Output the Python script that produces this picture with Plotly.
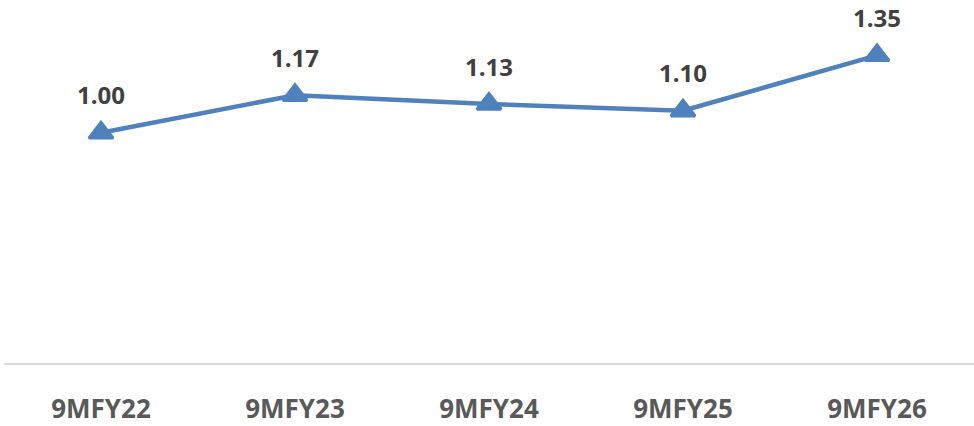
import plotly.graph_objects as go

categories = ["9MFY22", "9MFY23", "9MFY24", "9MFY25", "9MFY26"]
values = [1.00, 1.17, 1.13, 1.10, 1.35]
labels = ["1.00", "1.17", "1.13", "1.10", "1.35"]

LINE = "#4F81BD"

fig = go.Figure()
fig.add_trace(go.Scatter(
    x=categories, y=values, mode="lines+markers",
    line=dict(color=LINE, width=4.5),
    marker=dict(symbol="triangle-up", size=21, color=LINE,
                line=dict(color=LINE, width=3)),
    hoverinfo="skip", showlegend=False,
))

for c, v, t in zip(categories, values, labels):
    fig.add_annotation(
        x=c, y=v, text=t, showarrow=False, yshift=38,
        xanchor="center", yanchor="middle",
        font=dict(family="Open Sans", size=24, color="#404040", weight="bold"),
    )

fig.update_layout(
    width=974, height=426,
    margin=dict(l=4, r=0, t=0, b=61),
    paper_bgcolor="white", plot_bgcolor="white",
    hovermode=False,
    xaxis=dict(
        type="category", range=[-0.5, 4.5],
        showline=True, linecolor="#D9D9D9", linewidth=1.5,
        showgrid=False, zeroline=False,
        ticks="outside", ticklen=22, tickcolor="rgba(0,0,0,0)",
        tickfont=dict(family="Open Sans", size=26, color="#595959", weight="bold"),
    ),
    yaxis=dict(
        range=[-0.04, 1.6], visible=False, showgrid=False, zeroline=False,
    ),
)

fig.write_html("out.html", config={"displayModeBar": False, "staticPlot": True},
               post_script="document.body.style.margin='0';")
